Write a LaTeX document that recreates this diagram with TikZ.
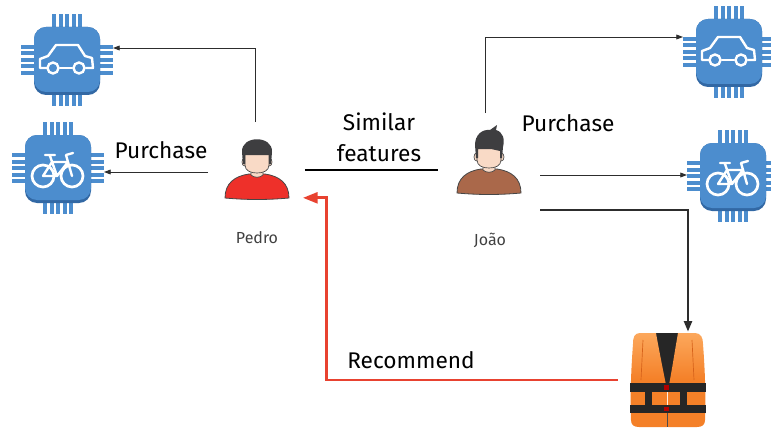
\documentclass[tikz,border=0pt]{standalone}
\usepackage{fontspec}
\setmainfont{Fira Sans}
\usetikzlibrary{arrows.meta,calc}

\definecolor{chipblue}{RGB}{76,141,206}
\definecolor{chipshade}{RGB}{50,104,164}
\definecolor{skin}{RGB}{249,218,198}
\definecolor{hairgray}{RGB}{62,62,64}
\definecolor{outlinegray}{RGB}{70,70,70}
\definecolor{shirtred}{RGB}{238,48,42}
\definecolor{shirtbrown}{RGB}{170,104,74}
\definecolor{vestorange}{RGB}{244,128,40}
\definecolor{vestlight}{RGB}{252,168,92}
\definecolor{vestdark}{RGB}{214,98,26}
\definecolor{linkred}{RGB}{232,66,48}
\definecolor{linkgray}{RGB}{45,45,45}

% shirt, neck and face shared by both people
\newcommand\drawpersonbase[1]{%
  \filldraw[fill=#1, draw=outlinegray, line width=0.6pt]
    (-32,36) .. controls (-32,21) and (-22,14) .. (-8,12) -- (8,12)
    .. controls (22,14) and (32,21) .. (32,36)
    .. controls (10,38) and (-10,38) .. cycle;
  \filldraw[fill=skin, draw=outlinegray, line width=0.5pt]
    (-6,5) -- (-6,13) .. controls (-3,16) and (3,16) .. (6,13) -- (6,5) -- cycle;
  \filldraw[fill=skin, draw=outlinegray, line width=0.5pt] (-12.5,0) ellipse (2.5 and 4);
  \filldraw[fill=skin, draw=outlinegray, line width=0.5pt] (12.5,0) ellipse (2.5 and 4);
  \filldraw[fill=skin, draw=outlinegray, line width=0.5pt]
    (-12,-10) -- (-12,3) .. controls (-12,9) and (-6,11) .. (0,11)
    .. controls (6,11) and (12,9) .. (12,3) -- (12,-10) -- cycle;
}

\tikzset{
  hidden/.style={inner sep=0pt, outer sep=0pt},
  chipnode/.style={hidden, minimum size=69pt},
  thinlink/.style={draw=linkgray, line width=0.6pt,
    -{Triangle[length=5pt,width=3.6pt]}},
  label/.style={font=\fontsize{17}{19}\selectfont, text=black, align=center},
  namelabel/.style={font=\fontsize{12}{14}\selectfont, text=black!75},
  chip/.pic={
    \foreach \i in {-2,...,2}{
      \fill[chipblue] ({\i*6.5-2},-46) rectangle ({\i*6.5+2},46);
      \fill[chipblue] (-46,{\i*6.5-2}) rectangle (46,{\i*6.5+2});
    }
    \fill[chipshade, rounded corners=9] (-33,-33) rectangle (33,35);
    \fill[chipblue, rounded corners=9] (-33,-33) rectangle (33,32);
  },
  carglyph/.pic={
    \draw[white, line width=1.8pt, line join=round, line cap=round]
      (-20,8) -- (-27,8) -- (-27,-1) -- (-19,-4) -- (-11,-15) -- (11,-15)
      -- (18,-4) -- (25,-2) -- (26,8) -- (19,8);
    \draw[white, line width=1.8pt, line cap=round] (-7,8) -- (5,8);
    \filldraw[fill=chipblue, draw=white, line width=1.8pt] (-14,8) circle (5.5);
    \filldraw[fill=chipblue, draw=white, line width=1.8pt] (12,8) circle (5.5);
  },
  bikeglyph/.pic={
    \draw[white, line width=2pt] (-15,8) circle (11);
    \draw[white, line width=2pt] (14,8) circle (11);
    \draw[white, line width=1.8pt, line join=round, line cap=round]
      (-15,8) -- (-1,8) -- (10,-6) -- (-6,-6) -- (-15,8)
      (-1,8) -- (-8,-12)
      (14,8) -- (8,-13) -- (15,-15)
      (-13,-13) -- (-3,-13);
  },
  pedrohair/.pic={
    \fill[hairgray]
      (-14,2) -- (-15,-10) .. controls (-16,-27) and (16,-27) .. (15,-10)
      -- (14,2) -- (12,2) -- (12,-7) -- (-12,-7) -- (-12,2) -- cycle;
  },
  joaohair/.pic={
    \fill[hairgray]
      (-13,1) -- (-14,-12) .. controls (-14,-22) and (-7,-28) .. (1,-27)
      -- (8,-32) -- (7,-27) .. controls (14,-25) and (16,-18) .. (14,-10)
      -- (13,1) -- (11,1) -- (11,-6) -- (2,-8) -- (-11,-8) -- (-11,1) -- cycle;
  },
  lifevest/.pic={
    % dark lining seen through the neck opening
    \fill[black!85] (-13,-47) -- (11,-47) -- (4,10) -- (-4,10) -- cycle;
    % left front panel
    \shade[top color=vestlight, bottom color=vestorange, middle color=vestorange]
      (-12,-47) -- (-28,-47) .. controls (-34,-47) and (-35,-42) .. (-35,-36)
      .. controls (-37,-10) and (-38,20) .. (-37,40)
      .. controls (-37,45) and (-34,47) .. (-29,47) -- (-1,47) -- (-1,10)
      .. controls (-5,-10) and (-9,-30) .. cycle;
    % right front panel
    \shade[top color=vestlight, bottom color=vestorange, middle color=vestorange]
      (10,-47) -- (27,-47) .. controls (33,-47) and (35,-42) .. (35,-36)
      .. controls (37,-10) and (38,20) .. (37,40)
      .. controls (37,45) and (34,47) .. (29,47) -- (0,47) -- (0,10)
      .. controls (4,-10) and (7,-30) .. cycle;
    \draw[vestdark, line width=0.5pt] (-25,-40) -- (-27,0) (24,-40) -- (26,0);
    % straps and buckles
    \fill[black!85] (-38,3) rectangle (38,12);
    \fill[black!85] (-38,25) rectangle (38,33);
    \fill[black!85] (-23,12) rectangle (-16,25);
    \fill[black!85] (12,12) rectangle (19,25);
    \fill[red!70!black] (-4,5) rectangle (1,10);
    \fill[red!70!black] (-4,27) rectangle (1,31);
    \draw[black!70, line width=0.6pt] (-0.5,33) -- (-0.5,47);
  },
}

\begin{document}
\begin{tikzpicture}[x=0.75pt, y=-0.75pt]
  \useasboundingbox (0,0) rectangle (771,428);

  % anchor nodes for the icons
  \node[chipnode] (carL)  at (67,60)  {};
  \node[chipnode] (bikeL) at (58,168) {};
  \node[chipnode] (carR)  at (729,52) {};
  \node[chipnode] (bikeR) at (733,176) {};
  \node[hidden, minimum width=50pt, minimum height=47pt] (pedro) at (257.5,167.5) {};
  \node[hidden, minimum width=55pt, minimum height=50pt] (joao)  at (491.5,160.5) {};
  \node[hidden, minimum width=56pt, minimum height=71pt] (vest)  at (668,380) {};

  % product chips
  \pic at (carL)  {chip};  \pic at (carL)  {carglyph};
  \pic at (bikeL) {chip};  \pic at (bikeL) {bikeglyph};
  \pic at (carR)  {chip};  \pic at (carR)  {carglyph};
  \pic at (bikeR) {chip};  \pic at (bikeR) {bikeglyph};

  % people
  \begin{scope}[shift={(257,162)}]
    \drawpersonbase{shirtred}
    \pic {pedrohair};
  \end{scope}
  \begin{scope}[shift={(489,157)}]
    \drawpersonbase{shirtbrown}
    \pic {joaohair};
  \end{scope}

  % recommended item
  \pic at (vest) {lifevest};

  % purchases
  \draw[thinlink] ($(pedro.north)+(-2,-14)$) |- ($(carL.east)+(0,-12)$);
  \draw[thinlink] ($(pedro.west)+(-16,4.5)$) -- ($(bikeL.east)+(0,4)$);
  \draw[thinlink] ($(joao.north)+(-6.5,-14)$) |- ($(carR.west)+(0,-15)$);
  \draw[thinlink] ($(joao.east)+(12,14.5)$) -- ($(bikeR.west)+(0,-1)$);

  % similarity link
  \draw[black, line width=2.2pt] ($(pedro.east)+(14,2.5)$) -- ($(joao.west)+(-17,9.5)$);

  % purchase of the life vest
  \draw[linkgray, line width=1.8pt, -{Triangle[length=8pt,width=6pt]}]
    ($(joao.east)+(12,49.5)$) -| ($(vest.north)+(20,-1)$);

  % recommendation back to Pedro
  \coordinate (rtip) at ($(pedro.south east)+(12,-1)$);
  \coordinate (rcorner) at ($(pedro.south east)+(36,-1)$);
  \draw[linkred, line width=2.2pt, -{Triangle[length=11pt,width=8pt]}]
    ($(vest.west)+(-13,0)$) -| (rcorner) -- (rtip);

  % labels
  \node[label] (lpl) at (161,150) {Purchase};
  \node[label] (lpr) at (568,123) {Purchase};
  \node[label, font=\fontsize{17}{23}\selectfont] (lsim) at (379,137) {Similar\\features};
  \node[label] (lrec) at (411,360) {Recommend};
  \node[namelabel] (lpedro) at (257,238) {Pedro};
  \node[namelabel] (ljoao) at (490,240) {João};
\end{tikzpicture}
\end{document}
